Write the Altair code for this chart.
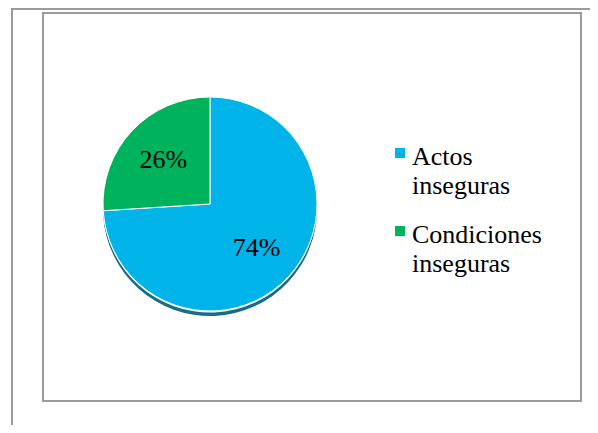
import altair as alt
import pandas as pd

categories = ["Actos inseguras", "Condiciones inseguras"]
values = [74, 26]
labels = ["74%", "26%"]
colors = ["#00B4EA", "#00B25C"]

df = pd.DataFrame({"categoria": categories, "valor": values, "etiqueta": labels})

SERIF = "Liberation Serif"
CX, CY, R = 202, 196, 107
theta = alt.Theta("valor:Q", stack=True)
order = alt.Order("valor:Q", sort="descending")
color = alt.Color("categoria:N", scale=alt.Scale(domain=categories, range=colors), legend=None)
base = alt.Chart(df)

shadow = base.mark_arc(radius=R, color="#176C86").encode(
    theta=theta, order=order, x=alt.value(CX), y=alt.value(CY + 5))
gap = base.mark_arc(radius=R, color="white").encode(
    theta=theta, order=order, x=alt.value(CX), y=alt.value(CY + 1.5))
pie = base.mark_arc(radius=R, stroke="white", strokeWidth=1).encode(
    theta=theta, order=order, color=color, x=alt.value(CX), y=alt.value(CY))
text = base.mark_text(radius=64, font=SERIF, fontSize=26, color="black").encode(
    theta=theta, order=order, text="etiqueta:N", x=alt.value(CX), y=alt.value(CY))

# legend built from the same categories
legend_y = alt.Y("categoria:N", scale=alt.Scale(domain=categories, range=[157, 235], padding=0), axis=None)
leg_sym = base.mark_square(size=100, opacity=1, yOffset=-12).encode(
    x=alt.value(392), y=legend_y, color=color)
leg_txt = base.mark_text(
    align="left", baseline="alphabetic", font=SERIF, fontSize=26,
    lineBreak=" ", lineHeight=29, color="black",
).encode(x=alt.value(404), y=legend_y, text="categoria:N")

one = alt.Chart(pd.DataFrame({"a": [0]}))
frame = one.mark_rect(fillOpacity=0, stroke="#9a9a9a", strokeWidth=2).encode(
    x=alt.value(35), x2=alt.value(573), y=alt.value(5), y2=alt.value(393))
left_line = one.mark_rule(color="#9a9a9a", strokeWidth=2).encode(
    x=alt.value(4), y=alt.value(0), y2=alt.value(417))
top_line = one.mark_rule(color="#9a9a9a", strokeWidth=2).encode(
    x=alt.value(4), x2=alt.value(582), y=alt.value(1))

chart = alt.layer(left_line, top_line, frame, shadow, gap, pie, text, leg_sym, leg_txt).properties(
    width=582, height=417, autosize=alt.AutoSizeParams(type="none"), padding=0
).configure_view(stroke=None)

chart.save("out.html", embed_options={"renderer": "svg", "actions": False})
